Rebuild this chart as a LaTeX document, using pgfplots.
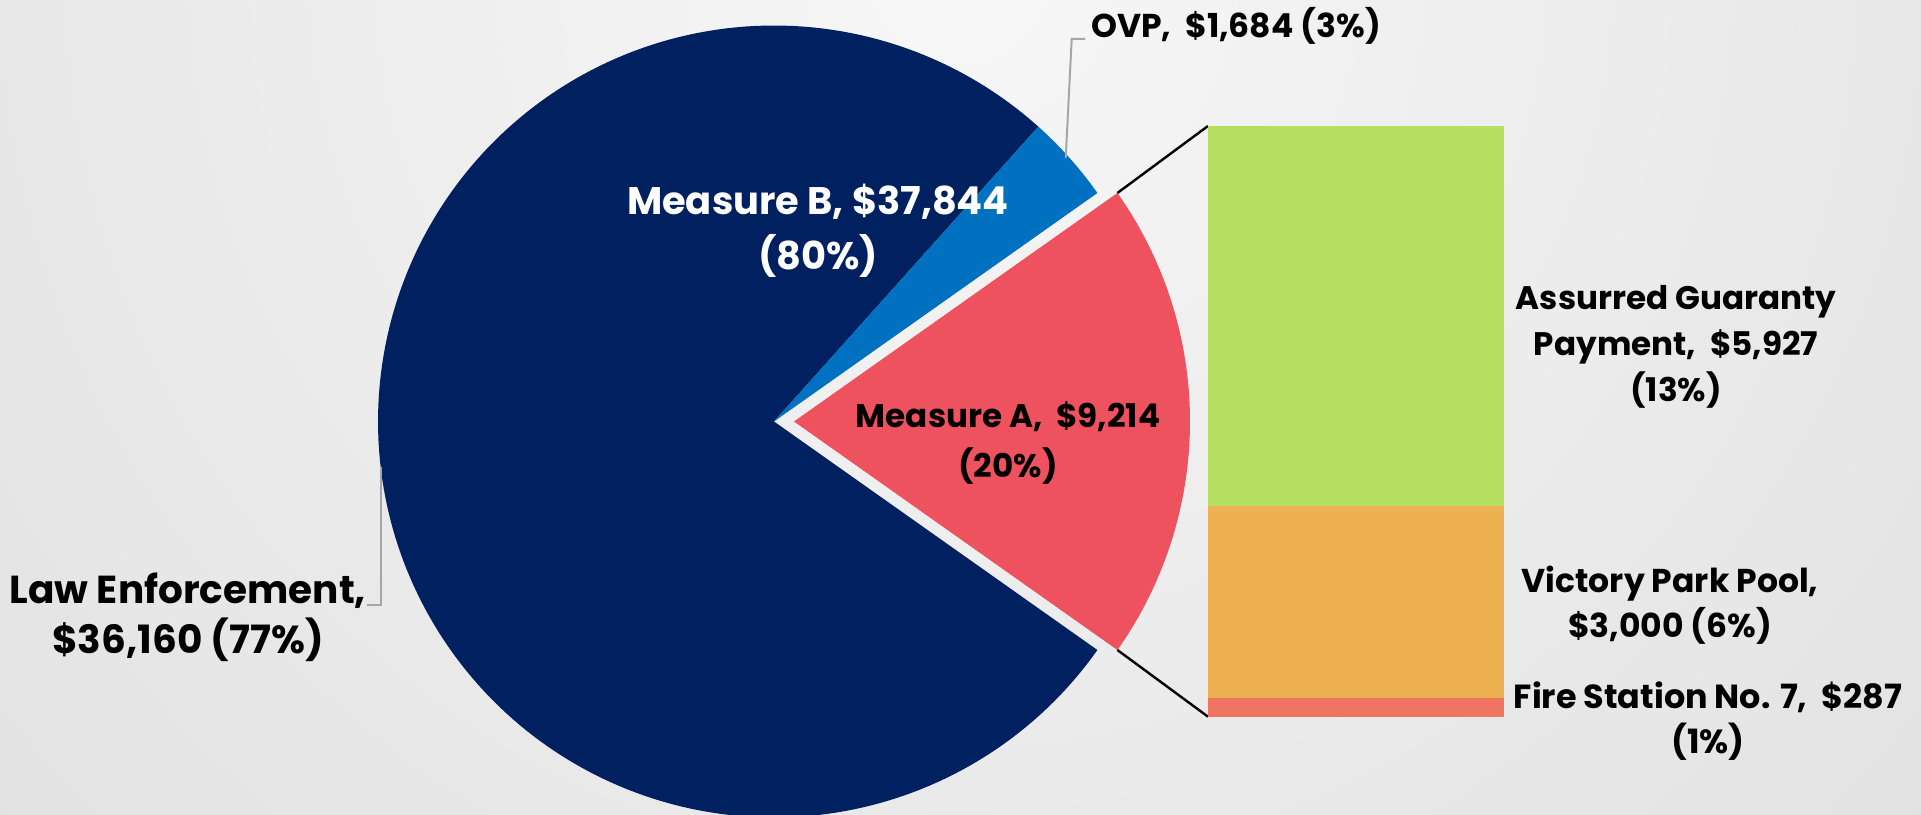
\documentclass[border=0pt]{standalone}
\usepackage{pgfplots}
\pgfplotsset{compat=1.18}
\usepackage{fontspec}
\setmainfont{Poppins}
\definecolor{lawc}{RGB}{0,32,96}
\definecolor{ovpc}{RGB}{0,112,192}
\definecolor{mac}{RGB}{238,82,94}
\definecolor{agc}{RGB}{181,224,97}
\definecolor{vpc}{RGB}{238,177,82}
\definecolor{fsc}{RGB}{240,117,96}
\definecolor{leader}{RGB}{166,166,166}
\definecolor{bginner}{RGB}{247,247,247}
\definecolor{bgouter}{RGB}{205,205,205}
% data (thousands of $)
\def\LawEnf{36160}
\def\OVP{1684}
\def\MeasA{9214}
\edef\Tot{\fpeval{\LawEnf+\OVP+\MeasA}}
\edef\aA{\fpeval{round(180*\MeasA/\Tot,4)}}
\edef\aO{\fpeval{round(180*\MeasA/\Tot+360*\OVP/\Tot,4)}}
\edef\aL{\fpeval{round(360-180*\MeasA/\Tot,4)}}
\tikzset{lbl/.style={align=center, inner sep=0pt, font={\fontsize{16.5}{22.5}\selectfont\bfseries}}}
\begin{document}
\begin{tikzpicture}
\begin{scope}
\clip (0,0) rectangle (960.5pt,407pt);
\shade[inner color=bginner, outer color=bgouter] (-820pt,-880pt) rectangle (1780pt,1720pt);
\end{scope}
\begin{axis}[at={(0,0)}, anchor=south west, scale only axis, width=960.5pt, height=407pt,
  xmin=0, xmax=1921, ymin=0, ymax=814, hide axis, clip=true]
\addplot[draw=none, fill=lawc, domain=\aO:\aL, samples=200] ({774+396*cos(x)},{392.5+396*sin(x)}) -- (axis cs:774,392.5) -- cycle;
\addplot[draw=none, fill=ovpc, domain=\aA:\aO, samples=30] ({774+396*cos(x)},{392.5+396*sin(x)}) -- (axis cs:774,392.5) -- cycle;
\addplot[draw=none, fill=mac, domain=-\aA:\aA, samples=80] ({794+396*cos(x)},{392.5+396*sin(x)}) -- (axis cs:794,392.5) -- cycle;
\addplot[black, line width=1.2pt] coordinates {(1117.4,621.0) (1208,688)};
\addplot[black, line width=1.2pt] coordinates {(1117.4,164.0) (1208,97.3)};
\addplot[leader, line width=1pt] coordinates {(367,209) (381,209) (381,347)};
\addplot[leader, line width=1pt] coordinates {(1085,775) (1071.7,775) (1065.7,656)};
\node[lbl, font={\fontsize{19.5}{25}\selectfont\bfseries}] at (axis cs:188,197) {Law Enforcement,\\\$36,160 (77\%)};
\node[lbl] at (axis cs:1236,788) {OVP,~ \$1,684 (3\%)};
\node[lbl, text=white, font={\fontsize{19.2}{27.5}\selectfont\bfseries}] at (axis cs:818,583) {Measure B, \$37,844\\(80\%)};
\node[lbl, font={\fontsize{16.3}{25}\selectfont\bfseries}] at (axis cs:1008,371) {Measure A,~ \$9,214\\(20\%)};
\node[lbl, font={\fontsize{16.3}{23}\selectfont\bfseries}] at (axis cs:1676,467) {Assurred Guaranty\\Payment,~ \$5,927\\(13\%)};
\node[lbl] at (axis cs:1670,209) {Victory Park Pool,\\\$3,000 (6\%)};
\node[lbl, font={\fontsize{16.7}{22.5}\selectfont\bfseries}] at (axis cs:1708,93) {Fire Station No. 7,~ \$287\\(1\%)};
\end{axis}
\begin{axis}[at={(0,0)}, anchor=south west, scale only axis, width=960.5pt, height=407pt,
  xmin=0, xmax=1921, ymin=-1517.7, ymax=11179.3, hide axis, clip=false,
  ybar stacked, bar width=296]
\addplot[fill=fsc, draw=none] coordinates {(1356,287)};
\addplot[fill=vpc, draw=none] coordinates {(1356,3000)};
\addplot[fill=agc, draw=none] coordinates {(1356,5927)};
\end{axis}
\end{tikzpicture}
\end{document}
